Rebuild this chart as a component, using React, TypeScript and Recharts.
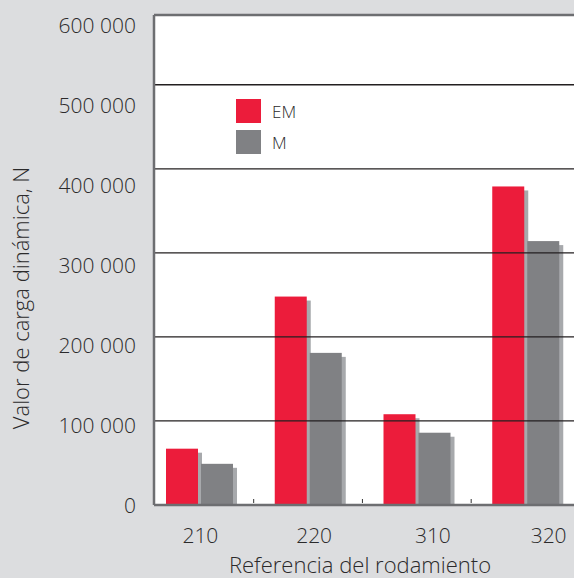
import { Bar, BarChart, CartesianGrid, ReferenceLine, XAxis, YAxis } from "recharts";

const CATEGORIES = ["210", "220", "310", "320"];
const EM_VALUES = [67000, 248000, 108000, 379000];
const M_VALUES = [49000, 181000, 86000, 314000];
const Y_TICKS = [0, 100000, 200000, 300000, 400000, 500000, 600000];
const GRID_VALUES = [100000, 200000, 300000, 400000, 500000];
const Y_MAX = 583000;

const SERIES = [
  { key: "EM", color: "#ec1c3b" },
  { key: "M", color: "#808184" },
];

const data = CATEGORIES.map((ref, i) => ({ ref, EM: EM_VALUES[i], M: M_VALUES[i] }));

const FONT = "'Open Sans', 'DejaVu Sans', sans-serif";
const TEXT = "#2b2a2b";
const BORDER = "#6d6e71";
const PLOT_BOTTOM = 505;
// the tick labels in the original sit on a slightly tighter spacing than the gridlines
const LABEL_SQUEEZE = 0.95;
const X_LABEL_SHIFT = [1, 6, 16, 23];

const fmt = (v: number) => String(v).replace(/\B(?=(\d{3})+(?!\d))/g, " ");

function YTick(props: any) {
  const { y, payload } = props;
  const labelY = PLOT_BOTTOM - (PLOT_BOTTOM - y) * LABEL_SQUEEZE;
  return (
    <text x={136} y={labelY} dy="0.36em" textAnchor="end" fill={TEXT} fontSize={21} fontFamily={FONT} fontWeight={300}>
      {fmt(payload.value)}
    </text>
  );
}

function XTick(props: any) {
  const { x, payload, index } = props;
  const half = 54.3;
  return (
    <g>
      <line x1={x + half} x2={x + half} y1={PLOT_BOTTOM - 2} y2={PLOT_BOTTOM - 6} stroke="#333" strokeWidth={1} />
      <text x={x + (X_LABEL_SHIFT[index] ?? 0)} y={535} dy="0.36em" textAnchor="middle" fill={TEXT} fontSize={21} fontFamily={FONT} fontWeight={300}>
        {payload.value}
      </text>
    </g>
  );
}

function ShadowBar(props: any) {
  const { x, y, width, height, fill } = props;
  if (!height || height <= 0) return null;
  return (
    <g>
      <rect x={x + 4} y={y + 4} width={width} height={Math.max(height - 4, 0)} fill="#a7a9ac" />
      <rect x={x} y={y} width={width} height={height} fill={fill} />
    </g>
  );
}

function YTitle() {
  return (
    <text x={21} y={298} transform="rotate(-90 21 298)" dy="0.36em" textAnchor="middle" fill={TEXT} fontSize={22} fontFamily={FONT} fontWeight={300}>
      Valor de carga dinámica, N
    </text>
  );
}

function XTitle() {
  return (
    <text x={360} y={565} dy="0.36em" textAnchor="middle" fill={TEXT} fontSize={22} fontFamily={FONT} fontWeight={300}>
      Referencia del rodamiento
    </text>
  );
}

function LegendBox() {
  return (
    <div style={{ position: "absolute", left: 236, top: 99, fontFamily: FONT, fontWeight: 300, fontSize: 17, color: TEXT }}>
      {SERIES.map((s) => (
        <div key={s.key} style={{ display: "flex", alignItems: "center", height: 24, marginBottom: 7 }}>
          <span style={{ width: 25, height: 24, background: s.color, display: "inline-block", marginRight: 11 }} />
          <span>{s.key}</span>
        </div>
      ))}
    </div>
  );
}

export default function App() {
  return (
    <div style={{ position: "fixed", left: 0, top: 0, width: 574, height: 578, overflow: "hidden", background: "#dcdddf" }}>
      <BarChart width={574} height={578} data={data} margin={{ top: 15, right: 0, bottom: 0, left: 0 }} barSize={32} barGap={3}>
        <CartesianGrid fill="#ffffff" horizontal={false} vertical={false} />
        {GRID_VALUES.map((v) => (
          <ReferenceLine key={v} y={v} stroke="#231f20" strokeWidth={1.3} />
        ))}
        <ReferenceLine y={Y_MAX} stroke={BORDER} strokeWidth={2.5} />
        <XAxis
          dataKey="ref"
          height={73}
          interval={0}
          padding={{ left: -9, right: -6 }}
          axisLine={{ stroke: BORDER, strokeWidth: 2.5 }}
          tickLine={false}
          tick={<XTick />}
          label={<XTitle />}
        />
        <YAxis
          type="number"
          domain={[0, Y_MAX]}
          ticks={Y_TICKS}
          interval={0}
          allowDataOverflow
          width={154}
          axisLine={{ stroke: BORDER, strokeWidth: 2.5 }}
          tickLine={false}
          tick={<YTick />}
          label={<YTitle />}
        />
        {SERIES.map((s) => (
          <Bar key={s.key} dataKey={s.key} fill={s.color} shape={<ShadowBar />} isAnimationActive={false} />
        ))}
      </BarChart>
      <LegendBox />
    </div>
  );
}
